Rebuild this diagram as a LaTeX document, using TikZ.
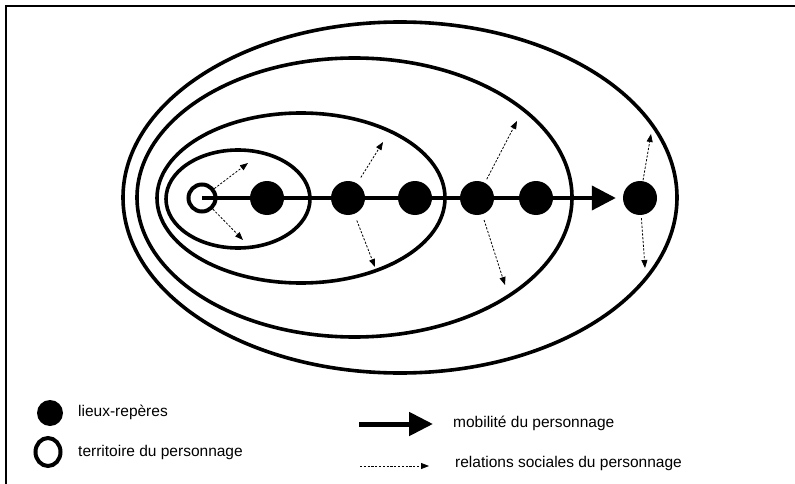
\documentclass[tikz,border=0pt]{standalone}
\usepackage{fontspec}
\setmainfont{Liberation Sans}
\usetikzlibrary{arrows.meta,shapes.geometric}
\begin{document}
\begin{tikzpicture}[x=1pt,y=-1pt,
  place/.style={circle,fill=black,inner sep=0pt,minimum size=34pt},
  home/.style={circle,draw=black,line width=4pt,fill=white,inner sep=0pt,minimum size=27pt},
  zone/.style={line width=3.6pt},
  move/.style={line width=4pt,-{Triangle[length=24pt,width=24pt]}},
  rel/.style={line width=0.8pt,dash pattern=on 2.2pt off 1.6pt,-{Triangle[length=8pt,width=6pt]}},
  label/.style={anchor=west,inner sep=0pt,font=\fontsize{15.5}{18}\selectfont}
]
\useasboundingbox (0,0) rectangle (795,484);
% frame (left and top edges)
\draw[line width=2.5pt] (6,484) -- (6,6) -- (795,6);

% nested zones
\draw[zone] (400,197.5) ellipse [x radius=277, y radius=175.5];
\draw[zone] (354.5,197.5) ellipse [x radius=217.5, y radius=139.5];
\draw[zone] (301,198) ellipse [x radius=144, y radius=85];
\draw[zone] (238,199) ellipse [x radius=72, y radius=49];

% places along the path
\node[place] (d1) at (267,198) {};
\node[place] (d2) at (348,198) {};
\node[place] (d3) at (415,198) {};
\node[place] (d4) at (477,198) {};
\node[place] (d5) at (536,198) {};
\node[place] (d6) at (640,198) {};
\node[home] (t) at (202,198) {};

% mobility
\draw[move] (t.center) -- (d6.west) [shorten >=7pt];

% social relations
\coordinate (ta) at (248,163);
\coordinate (tb) at (243,240);
\coordinate (d2a) at (383,142);
\coordinate (d2b) at (375,267);
\coordinate (d4a) at (517,121);
\coordinate (d4b) at (505,285);
\coordinate (d6a) at (651,134);
\coordinate (d6b) at (645,268);
\draw[rel] (t) -- (ta);
\draw[rel] (t) -- (tb);
\draw[rel,shorten <=7pt] (d2) -- (d2a);
\draw[rel,shorten <=7pt] (d2) -- (d2b);
\draw[rel,shorten <=4pt] (d4) -- (d4a);
\draw[rel,shorten <=6pt] (d4) -- (d4b);
\draw[rel,shorten <=1pt] (d6) -- (d6a);
\draw[rel,shorten <=3pt] (d6) -- (d6b);

% legend
\node[circle,fill=black,inner sep=0pt,minimum size=26pt] (kplace) at (50,413) {};
\node[label] (lplace) at (78,412) {lieux-repères};
\node[draw=black,ellipse,line width=4pt,inner sep=0pt,minimum width=25pt,minimum height=28pt] (khome) at (48,452) {};
\node[label] (lhome) at (78,452) {territoire du personnage};
\coordinate (kma) at (359,424);
\coordinate (kmb) at (433,424);
\draw[line width=5pt,-{Triangle[length=24pt,width=23pt]}] (kma) -- (kmb);
\node[label] (lmove) at (453,423) {mobilité du personnage};
\coordinate (kra) at (360,466);
\coordinate (krb) at (429,466);
\draw[rel] (kra) -- (krb);
\node[label] (lrel) at (455,463) {relations sociales du personnage};
\end{tikzpicture}
\end{document}
